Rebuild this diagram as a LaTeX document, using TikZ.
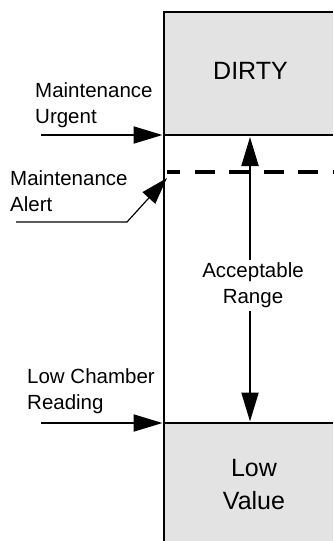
\documentclass[tikz,border=0pt]{standalone}
\usepackage{fontspec}
\setmainfont{Liberation Sans}
\usetikzlibrary{arrows.meta}
\begin{document}
\begin{tikzpicture}[x=1pt,y=-1pt,
  lbl/.style={inner sep=0pt, font=\fontsize{20.5}{25.5}\selectfont, align=left},
  midlbl/.style={inner sep=0pt, font=\fontsize{20.5}{26}\selectfont, align=center},
  big/.style={inner sep=0pt, font=\fontsize{25}{33}\selectfont, align=center},
  wall/.style={line width=2pt, line join=miter},
  zone/.style={fill=black!11},
  pointer/.style={line width=2pt, -{Triangle[length=29pt,width=17pt]}},
  thinpointer/.style={line width=1.2pt, -{Triangle[length=27pt,width=17pt]}},
  alertline/.style={line width=3.5pt, dash pattern=on 20pt off 14.5pt, dash phase=7pt}]
\useasboundingbox (0,0) rectangle (333,541);
% zones
\fill[zone] (164,12) rectangle (333,135);
\fill[zone] (164,423) rectangle (333,541);
% dashed alert level
\draw[alertline] (167,172) -- (333,172);
% walls
\draw[wall] (333,12) -- (164,12) -- (164,541);
\draw[wall] (164,135) -- (333,135);
\draw[wall] (164,423) -- (333,423);
% texts
\node[big, anchor=base] (dirty) at (250.5,79) {DIRTY};
\node[big, anchor=base] (lowval) at (254,509) {Low\\Value};
\node[lbl, anchor=base west] (urgent) at (35,123) {Maintenance\\Urgent};
\node[lbl, anchor=base west] (alert) at (10,211) {Maintenance\\Alert};
\node[lbl, anchor=base west] (lowch) at (27,409) {Low Chamber\\Reading};
\node[midlbl, anchor=base] (acc) at (253,303) {Acceptable\\Range};
% connector ends
\coordinate (urgstart) at (41,135);
\coordinate (urgtip) at (162.5,135);
\coordinate (alstart) at (16,222);
\coordinate (albend) at (127,222);
\coordinate (altip) at (167,178);
\coordinate (lowstart) at (41,423);
\coordinate (lowtip) at (162.5,423);
\coordinate (rtop) at (250,137);
\coordinate (rbot) at (250,421.5);
% connectors
\draw[pointer] (urgstart) -- (urgtip);
\draw[pointer] (lowstart) -- (lowtip);
\draw[thinpointer] (alstart) -- (albend) -- (altip);
\draw[pointer] (acc.north -| rtop) ++(0,-2) -- (rtop);
\draw[pointer, shorten <=4pt] (acc.south -| rbot) -- (rbot);
\end{tikzpicture}
\end{document}
